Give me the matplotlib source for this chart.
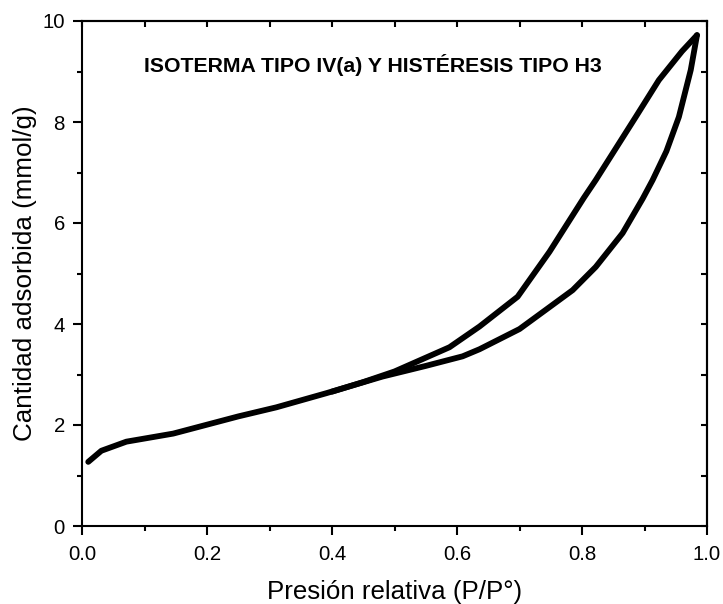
import matplotlib
matplotlib.use("Agg")
import matplotlib.pyplot as plt
from matplotlib.ticker import MultipleLocator, FormatStrFormatter

plt.rcParams['font.family'] = ['Liberation Sans', 'DejaVu Sans']

# Adsorption branch (lower)
p_ads = [0.010, 0.031, 0.071, 0.146, 0.250, 0.311, 0.391, 0.481, 0.550, 0.609,
         0.636, 0.700, 0.742, 0.785, 0.822, 0.865, 0.897, 0.913, 0.935, 0.955,
         0.974, 0.984]
q_ads = [1.27, 1.49, 1.67, 1.83, 2.17, 2.35, 2.63, 2.96, 3.17, 3.36,
         3.50, 3.90, 4.28, 4.67, 5.13, 5.80, 6.48, 6.85, 7.42, 8.10,
         9.03, 9.72]

# Desorption branch (upper)
p_des = [0.984, 0.960, 0.923, 0.886, 0.822, 0.803, 0.748, 0.697, 0.636, 0.588,
         0.500, 0.450, 0.400]
q_des = [9.72, 9.40, 8.83, 8.10, 6.85, 6.50, 5.43, 4.54, 3.95, 3.54,
         3.06, 2.85, 2.66]

title_text = "ISOTERMA TIPO IV(a) Y HISTÉRESIS TIPO H3"
xlabel = "Presión relativa (P/P°)"
ylabel = "Cantidad adsorbida (mmol/g)"

fig = plt.figure(figsize=(7.23, 6.04), dpi=100)
ax = fig.add_axes([82/723, 1-526/604, (707-82)/723, (526-21)/604])

kw = dict(color='black', lw=4.2, solid_capstyle='round', solid_joinstyle='round')
ax.plot(p_ads, q_ads, **kw)
ax.plot(p_des, q_des, **kw)

ax.set_xlim(0, 1.0)
ax.set_ylim(0, 10)
ax.xaxis.set_major_locator(MultipleLocator(0.2))
ax.xaxis.set_minor_locator(MultipleLocator(0.1))
ax.yaxis.set_major_locator(MultipleLocator(2))
ax.yaxis.set_minor_locator(MultipleLocator(1))
ax.xaxis.set_major_formatter(FormatStrFormatter('%.1f'))

for s in ax.spines.values():
    s.set_linewidth(1.5)

ax.tick_params(which='major', direction='out', length=6.5, width=1.5, labelsize=14.7)
ax.tick_params(which='minor', direction='out', length=3.6, width=1.5)
ax.tick_params(axis='x', which='major', pad=7.4)
ax.tick_params(axis='y', which='major', pad=5.8)

secx = ax.secondary_xaxis('top')
secx.xaxis.set_major_locator(MultipleLocator(0.1))
secx.tick_params(direction='in', length=4.3, width=1.5, labeltop=False)
secy = ax.secondary_yaxis('right')
secy.yaxis.set_major_locator(MultipleLocator(1))
secy.tick_params(direction='in', length=4.3, width=1.5, labelright=False)
secx.spines['top'].set_linewidth(1.5)
secy.spines['right'].set_linewidth(1.5)

ax.set_xlabel(xlabel, fontsize=18.6, labelpad=11)
ax.set_ylabel(ylabel, fontsize=18.7, labelpad=4.2)

ax.text(0.465, 9.12, title_text, fontsize=15.3, fontweight='bold',
        ha='center', va='center')

fig.savefig("out.png", dpi=100)
